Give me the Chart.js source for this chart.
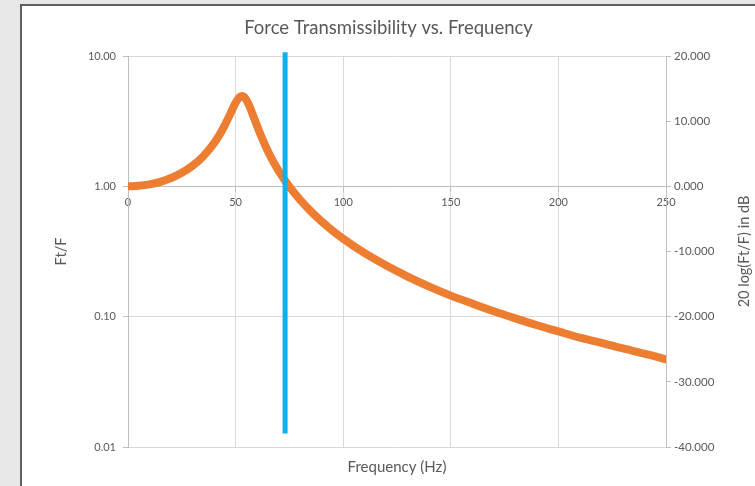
<!DOCTYPE html>
<html>
<head>
<meta charset="utf-8">
<title>Force Transmissibility vs. Frequency</title>
<script src="https://cdn.jsdelivr.net/npm/chart.js@4.4.1/dist/chart.umd.min.js"></script>
<style>
  html, body { margin: 0; padding: 0; background: #e7e7e7; overflow: hidden; }
  #panel {
    position: absolute; left: 20px; top: 4px;
    width: 733px; height: 480px;
    background: #fff;
    border-left: 2px solid #5f5f5f;
    border-top: 2px solid #5f5f5f;
  }
  canvas { display: block; }
</style>
</head>
<body>
<div id="panel"><canvas id="chart" width="733" height="480"></canvas></div>
<script>
// Data
const freqHz = [0, 5, 10, 15, 20, 25, 30, 35, 40, 42, 44, 46, 48, 50, 52, 53, 54, 56, 58, 60,
  62, 64, 66, 68, 70, 75, 80, 85, 90, 95, 100, 110, 120, 130, 140, 150, 160, 170, 180, 190,
  200, 210, 220, 230, 240, 250];
const ratioFtF = [1.000, 1.009, 1.035, 1.083, 1.158, 1.270, 1.439, 1.703, 2.143, 2.405, 2.743, 3.182,
  3.739, 4.370, 4.858, 4.927, 4.836, 4.274, 3.543, 2.902, 2.400, 2.019, 1.726, 1.497, 1.315,
  0.993, 0.786, 0.642, 0.537, 0.458, 0.396, 0.307, 0.247, 0.203, 0.170, 0.145, 0.126, 0.110,
  0.097, 0.086, 0.077, 0.069, 0.063, 0.057, 0.052, 0.047];

// vertical marker line (blue)
const markerFreq = [73, 73];
const markerRatio = [0.0127, 10.7];

const leftTicks = [0.01, 0.1, 1, 10];
const dbMin = -40, dbMax = 20, dbStep = 10;
const xMin = 0, xMax = 250, xStep = 50;

const chartTitle = "Force Transmissibility vs. Frequency";
const xTitle = "Frequency (Hz)";
const yTitle = "Ft/F";
const y2Title = "20 log(Ft/F) in dB";

const FONT = "Lato, 'Open Sans', sans-serif";
const TEXT = "#595959";
const GRID = "#d9d9d9";
const AXIS = "#bfbfbf";

// right axis title reads bottom-to-top, so draw it ourselves
const rightTitle = {
  id: 'rightTitle',
  afterDraw(chart) {
    const { ctx, chartArea } = chart;
    ctx.save();
    ctx.translate(chart.width - 11, (chartArea.top + chartArea.bottom) / 2);
    ctx.rotate(-Math.PI / 2);
    ctx.font = `14.5px ${FONT}`;
    ctx.fillStyle = TEXT;
    ctx.textAlign = 'center';
    ctx.textBaseline = 'middle';
    ctx.fillText(y2Title, 0, 0);
    ctx.restore();
  }
};

const pts = (xs, ys) => xs.map((x, i) => ({ x, y: ys[i] }));

new Chart(document.getElementById('chart'), {
  type: 'line',
  data: {
    datasets: [
      {
        data: pts(markerFreq, markerRatio),
        borderColor: '#0fb0ef',
        borderWidth: 5,
        pointRadius: 0,
        clip: false,
        xAxisID: 'x',
        yAxisID: 'y'
      },
      {
        data: pts(freqHz, ratioFtF),
        borderColor: '#ed7d31',
        backgroundColor: '#ed7d31',
        borderWidth: 8,
        borderCapStyle: 'round',
        borderJoinStyle: 'round',
        pointRadius: 0,
        cubicInterpolationMode: 'monotone',
        xAxisID: 'x',
        yAxisID: 'y'
      }
    ]
  },
  options: {
    responsive: false,
    animation: false,
    devicePixelRatio: 1,
    layout: { padding: 0 },
    plugins: {
      legend: { display: false },
      tooltip: { enabled: false },
      title: {
        display: true,
        text: chartTitle,
        color: TEXT,
        font: { family: FONT, size: 18.5, weight: 'normal' },
        padding: { top: 11, bottom: 16.8 }
      }
    },
    scales: {
      x: {
        type: 'linear',
        position: { y: 1 },
        min: xMin, max: xMax,
        ticks: { stepSize: xStep, color: TEXT, font: { family: FONT, size: 11 }, padding: 5, maxRotation: 0 },
        grid: { color: GRID, tickColor: AXIS, tickLength: 5 },
        border: { color: AXIS }
      },
      xTitleAxis: {
        type: 'linear',
        position: 'bottom',
        min: xMin, max: xMax,
        ticks: { display: false },
        grid: { display: false },
        border: { display: false },
        title: {
          display: true, text: xTitle, color: TEXT,
          font: { family: FONT, size: 15 }, padding: { top: 0, bottom: 10 }
        },
        afterFit(s) { s.height = 39; }
      },
      y: {
        type: 'logarithmic',
        position: 'left',
        min: leftTicks[0], max: leftTicks[leftTicks.length - 1],
        afterBuildTicks(s) { s.ticks = leftTicks.map(v => ({ value: v, major: true })); },
        ticks: {
          color: TEXT, font: { family: FONT, size: 11 }, padding: 7,
          callback: v => Number(v).toFixed(2)
        },
        grid: { color: GRID, tickColor: AXIS, tickLength: 5 },
        border: { color: AXIS },
        title: {
          display: true, text: yTitle, color: TEXT,
          font: { family: FONT, size: 14.5 }, padding: { top: 31, bottom: 0 }
        },
        afterFit(s) { s.width = 106; }
      },
      y2: {
        type: 'linear',
        position: 'right',
        min: dbMin, max: dbMax,
        ticks: {
          stepSize: dbStep, color: TEXT, font: { family: FONT, size: 11.5 }, padding: 3,
          callback: v => Number(v).toFixed(3)
        },
        grid: { drawOnChartArea: false, tickColor: AXIS, tickLength: 5 },
        border: { color: AXIS },
        afterFit(s) { s.width = 89; }
      }
    }
  },
  plugins: [rightTitle]
});
</script>
</body>
</html>
